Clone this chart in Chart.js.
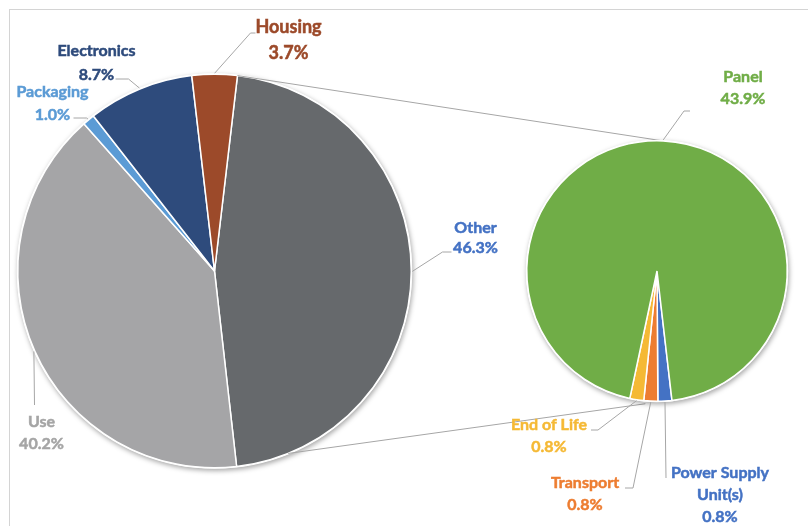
<!DOCTYPE html>
<html>
<head>
<meta charset="utf-8">
<title>Pie of pie</title>
<script src="https://cdn.jsdelivr.net/npm/chart.js"></script>
<style>
html, body { margin: 0; padding: 0; background: #fff; overflow: hidden; }
#wrap { position: relative; width: 808px; height: 526px; }
#frame {
  position: absolute; left: 9px; top: 9px;
  width: 900px; height: 600px;
  border: 1px solid #d4d4d4;
}
canvas { position: absolute; left: 0; top: 0; }
</style>
</head>
<body>
<div id="wrap">
  <div id="frame"></div>
  <canvas id="mainPie" width="808" height="526"></canvas>
  <canvas id="subPie" width="808" height="526"></canvas>
</div>

<script>
// datos (%)
const mainLabels = ['Other', 'Use', 'Packaging', 'Electronics', 'Housing'];
const mainValues = [46.3, 40.2, 1.0, 8.7, 3.7];
const subLabels = [['Power Supply', 'Unit(s)'], 'Transport', 'End of Life', 'Panel'];
const subValues = [0.8, 0.8, 0.8, 43.9];

// colores
const mainColors = ['#66696c', '#a5a5a7', '#5b9bd5', '#2e4b7c', '#9c4a2a'];
const mainText = ['#4472c4', '#a5a5a5', '#5b9bd5', '#2e4b7c', '#9c4a2a'];
const subColors = ['#4472c4', '#ed7d31', '#f5b935', '#70ad47'];
const subText = ['#4472c4', '#ed7d31', '#f5b935', '#70ad47'];

const FONT_FAMILY = 'Lato, "Open Sans", sans-serif';

// posicion de etiquetas relativa al centro de cada tarta
// x,y: centro de la primera linea; lh: interlineado; leader: codo y final de la guia
const mainLabelPos = [
  {x: 261, y: -43, lh: 20, leader: [[228, -19], [237, -19]]},
  {x: -173, y: 151, lh: 22, leader: [[-180, 134]]},
  {x: -162, y: -179, lh: 23, leader: [[-128, -153], [-141, -153]]},
  {x: -118, y: -220, lh: 24, leader: [[-86, -192], [-99, -192]]},
  {x: 74, y: -244, lh: 26, size: 18, leader: [[36, -238], [41, -238]]}
];
const subLabelPos = [
  {x: 63, y: 202, lh: 22, leader: [[9, 207]]},
  {x: -72, y: 212, lh: 22, leader: [[-24, 217], [-32, 217]]},
  {x: -108, y: 154, lh: 22, leader: [[-59, 159], [-66, 159]]},
  {x: 86, y: -194, lh: 22, leader: [[27, -160], [33, -160]]}
];

function pointAt(arc, angle, r) {
  return {x: arc.x + Math.cos(angle) * r, y: arc.y + Math.sin(angle) * r};
}

// sombra suave bajo la tarta
const shadowPlugin = {
  id: 'pieShadow',
  beforeDatasetsDraw(chart) {
    const arc = chart.getDatasetMeta(0).data[0];
    const ctx = chart.ctx;
    ctx.save();
    ctx.shadowColor = 'rgba(0,0,0,0.35)';
    ctx.shadowBlur = 5;
    ctx.shadowOffsetX = 1;
    ctx.shadowOffsetY = 2;
    ctx.fillStyle = '#ffffff';
    ctx.beginPath();
    ctx.arc(arc.x, arc.y, arc.outerRadius + 1, 0, Math.PI * 2);
    ctx.fill();
    ctx.restore();
  }
};

// etiquetas con lineas guia
const labelPlugin = {
  id: 'pieLabels',
  afterDatasetsDraw(chart, args, opts) {
    const ctx = chart.ctx;
    const meta = chart.getDatasetMeta(0);
    const values = chart.data.datasets[0].data;
    meta.data.forEach((arc, i) => {
      const p = opts.pos[i];
      const mid = (arc.startAngle + arc.endAngle) / 2;
      const start = pointAt(arc, mid, arc.outerRadius + 1);
      ctx.save();
      ctx.strokeStyle = '#a6a6a6';
      ctx.lineWidth = 1;
      ctx.beginPath();
      ctx.moveTo(start.x, start.y);
      p.leader.forEach(pt => ctx.lineTo(arc.x + pt[0], arc.y + pt[1]));
      ctx.stroke();

      let lines = chart.data.labels[i];
      lines = Array.isArray(lines) ? lines.slice() : [lines];
      lines.push(values[i].toFixed(1) + '%');
      ctx.font = 'bold ' + (p.size || 16) + 'px ' + FONT_FAMILY;
      ctx.fillStyle = opts.colors[i];
      ctx.strokeStyle = opts.colors[i];
      ctx.lineWidth = 0.5; // engrosar un poco el texto
      ctx.textAlign = 'center';
      ctx.textBaseline = 'middle';
      lines.forEach((t, k) => {
        const tx = arc.x + p.x, ty = arc.y + p.y + k * p.lh;
        ctx.fillText(t, tx, ty);
        ctx.strokeText(t, tx, ty);
      });
      ctx.restore();
    });
  }
};

const mainChart = new Chart(document.getElementById('mainPie'), {
  type: 'pie',
  data: {
    labels: mainLabels,
    datasets: [{
      data: mainValues,
      backgroundColor: mainColors,
      borderColor: '#ffffff',
      borderWidth: 1.5,
      hoverOffset: 0
    }]
  },
  options: {
    responsive: false,
    animation: false,
    rotation: 6.7,
    layout: {padding: {left: 17, right: 396, top: 73, bottom: 57}},
    events: [],
    plugins: {
      legend: {display: false},
      tooltip: {enabled: false},
      pieLabels: {pos: mainLabelPos, colors: mainText}
    }
  },
  plugins: [shadowPlugin, labelPlugin]
});

// lineas de union entre las dos tartas
const connectorPlugin = {
  id: 'connectors',
  beforeDatasetsDraw(chart) {
    const big = mainChart.getDatasetMeta(0).data[0]; // porcion "Other"
    const small = chart.getDatasetMeta(0).data[0];
    const deg = Math.PI / 180;
    const a1 = pointAt(big, big.startAngle, big.outerRadius);
    const b1 = pointAt(small, -87.4 * deg, small.outerRadius);
    const a2 = pointAt(big, 68 * deg, big.outerRadius);
    const b2 = pointAt(small, 95 * deg, small.outerRadius + 3);
    const ctx = chart.ctx;
    ctx.save();
    ctx.strokeStyle = '#a6a6a6';
    ctx.lineWidth = 1;
    ctx.beginPath();
    ctx.moveTo(a1.x, a1.y);
    ctx.lineTo(b1.x, b1.y);
    ctx.moveTo(a2.x, a2.y);
    ctx.lineTo(b2.x, b2.y);
    ctx.stroke();
    ctx.restore();
  }
};

new Chart(document.getElementById('subPie'), {
  type: 'pie',
  data: {
    labels: subLabels,
    datasets: [{
      data: subValues,
      backgroundColor: subColors,
      borderColor: '#ffffff',
      borderWidth: 1.5,
      hoverOffset: 0
    }]
  },
  options: {
    responsive: false,
    animation: false,
    rotation: 173.4,
    layout: {padding: {left: 526, right: 20, top: 140, bottom: 124}},
    events: [],
    plugins: {
      legend: {display: false},
      tooltip: {enabled: false},
      pieLabels: {pos: subLabelPos, colors: subText}
    }
  },
  plugins: [connectorPlugin, shadowPlugin, labelPlugin]
});
</script>
</body>
</html>
